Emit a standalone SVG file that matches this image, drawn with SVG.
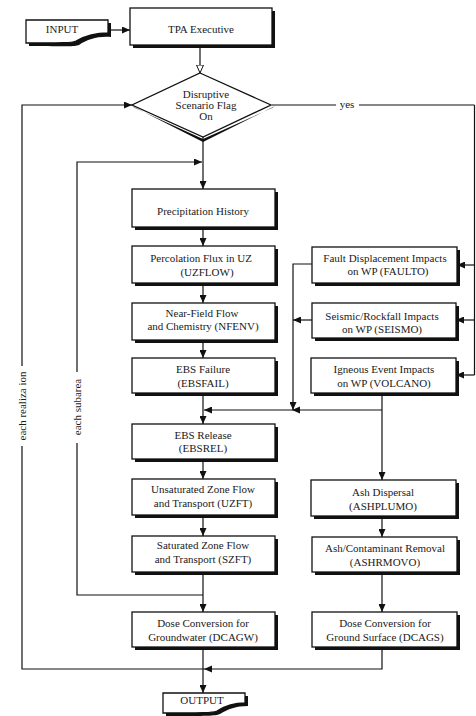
<svg xmlns="http://www.w3.org/2000/svg" width="476" height="716" viewBox="0 0 476 716">
<defs>
<marker id="ah" markerWidth="8" markerHeight="7" refX="8" refY="3.5" orient="auto" markerUnits="userSpaceOnUse"><path d="M0,0 L8,3.5 L0,7 z" fill="#111"/></marker>
<marker id="ao" markerWidth="9" markerHeight="8" refX="8.5" refY="4" orient="auto" markerUnits="userSpaceOnUse"><path d="M0.5,0.5 L8.5,4 L0.5,7.5 z" fill="#fff" stroke="#111" stroke-width="1"/></marker>
<style>
.bx{fill:#fff;stroke:#111;stroke-width:1.3}
.sh{fill:#111}
.t{font-family:"Liberation Serif","Times New Roman",serif;font-size:11px;fill:#1a1a1a;text-anchor:middle}
.c{fill:none;stroke:#111;stroke-width:1.2}
.a{marker-end:url(#ah)}
</style>
</defs>
<rect width="476" height="716" fill="#fff"/>

<g id="input">
<path class="sh" d="M29,23 H111 V37 C98,36 88,39 79,45 C74,47 68,46 29,46 Z"/>
<path class="bx" d="M26,20 H108 V33 C95,33 85,36 76,41 C71,43 65,43 26,43 Z"/>
<text class="t" x="62" y="33">INPUT</text>
</g>

<g id="tpa">
<rect class="sh" x="133" y="11" width="142" height="37"/>
<rect class="bx" x="130" y="8" width="142" height="37"/>
<text class="t" x="201" y="33">TPA Executive</text>
</g>

<g id="flag">
<polygon class="sh" points="132,106 203,142 275,106 272,108 203,139 135,108"/>
<polygon class="bx" points="200,73 271,105 203,137 132,105"/>
<text class="t" x="206" y="98">Disruptive</text>
<text class="t" x="206" y="109">Scenario Flag</text>
<text class="t" x="206" y="120">On</text>
</g>

<g id="precip">
<rect class="sh" x="135" y="192" width="143" height="38"/>
<rect class="bx" x="132" y="189" width="143" height="38"/>
<text class="t" x="203" y="215">Precipitation History</text>
</g>

<g id="uzflow">
<rect class="sh" x="135" y="249" width="143" height="37"/>
<rect class="bx" x="132" y="246" width="143" height="37"/>
<text class="t" x="201" y="262">Percolation Flux in UZ</text>
<text class="t" x="207" y="276">(UZFLOW)</text>
</g>

<g id="nfenv">
<rect class="sh" x="135" y="306" width="143" height="37"/>
<rect class="bx" x="132" y="303" width="143" height="37"/>
<text class="t" x="202" y="317">Near-Field Flow</text>
<text class="t" x="203" y="330">and Chemistry (NFENV)</text>
</g>

<g id="ebsfail">
<rect class="sh" x="135" y="361" width="143" height="35"/>
<rect class="bx" x="132" y="358" width="143" height="35"/>
<text class="t" x="203" y="373">EBS Failure</text>
<text class="t" x="203" y="387">(EBSFAIL)</text>
</g>

<g id="ebsrel">
<rect class="sh" x="135" y="427" width="143" height="35"/>
<rect class="bx" x="132" y="424" width="143" height="35"/>
<text class="t" x="203" y="439">EBS Release</text>
<text class="t" x="203" y="452">(EBSREL)</text>
</g>

<g id="uzft">
<rect class="sh" x="135" y="482" width="143" height="36"/>
<rect class="bx" x="132" y="479" width="143" height="36"/>
<text class="t" x="203" y="493">Unsaturated Zone Flow</text>
<text class="t" x="203" y="507">and Transport (UZFT)</text>
</g>

<g id="szft">
<rect class="sh" x="135" y="539" width="143" height="36"/>
<rect class="bx" x="132" y="536" width="143" height="36"/>
<text class="t" x="203" y="549">Saturated Zone Flow</text>
<text class="t" x="203" y="563">and Transport (SZFT)</text>
</g>

<g id="dcagw">
<rect class="sh" x="135" y="615" width="143" height="35"/>
<rect class="bx" x="132" y="612" width="143" height="35"/>
<text class="t" x="203" y="627">Dose Conversion for</text>
<text class="t" x="203" y="641">Groundwater (DCAGW)</text>
</g>

<g id="output">
<path class="sh" d="M166,696 H248 V706 C236,706 228,709 220,714 C215,716 208,716 166,716 Z"/>
<path class="bx" d="M163,693 H245 V703 C233,703 225,706 217,711 C212,713 205,713 163,713 Z"/>
<text class="t" x="202" y="704">OUTPUT</text>
</g>

<g id="faulto">
<rect class="sh" x="315" y="250" width="145" height="36"/>
<rect class="bx" x="312" y="247" width="145" height="36"/>
<text class="t" x="385" y="262">Fault Displacement Impacts</text>
<text class="t" x="388" y="275">on WP (FAULTO)</text>
</g>

<g id="seismo">
<rect class="sh" x="315" y="306" width="144" height="35"/>
<rect class="bx" x="312" y="303" width="144" height="35"/>
<text class="t" x="382" y="320">Seismic/Rockfall Impacts</text>
<text class="t" x="382" y="333">on WP (SEISMO)</text>
</g>

<g id="volcano">
<rect class="sh" x="314" y="361" width="145" height="35"/>
<rect class="bx" x="311" y="358" width="145" height="35"/>
<text class="t" x="384" y="373">Igneous Event Impacts</text>
<text class="t" x="384" y="387">on WP (VOLCANO)</text>
</g>

<g id="ashplumo">
<rect class="sh" x="314" y="483" width="145" height="36"/>
<rect class="bx" x="311" y="480" width="145" height="36"/>
<text class="t" x="383" y="496">Ash Dispersal</text>
<text class="t" x="383" y="510">(ASHPLUMO)</text>
</g>

<g id="ashrmovo">
<rect class="sh" x="315" y="540" width="145" height="35"/>
<rect class="bx" x="312" y="537" width="145" height="35"/>
<text class="t" x="385" y="552">Ash/Contaminant Removal</text>
<text class="t" x="385" y="566">(ASHRMOVO)</text>
</g>

<g id="dcags">
<rect class="sh" x="315" y="615" width="145" height="35"/>
<rect class="bx" x="312" y="612" width="145" height="35"/>
<text class="t" x="385" y="627">Dose Conversion for</text>
<text class="t" x="385" y="641">Ground Surface (DCAGS)</text>
</g>

<g id="connectors">
<line class="c a" x1="108" y1="30" x2="130" y2="30"/>
<line class="c" x1="200" y1="45" x2="200" y2="73" marker-end="url(#ao)"/>
<line class="c a" x1="203" y1="137" x2="203" y2="189"/>
<line class="c" x1="272" y1="105" x2="336" y2="105"/>
<line class="c" x1="359" y1="105" x2="474.5" y2="105"/>
<text class="t" x="347" y="108">yes</text>
<line class="c" x1="474.5" y1="105" x2="474.5" y2="375"/>
<line class="c a" x1="474.5" y1="265" x2="457" y2="265"/>
<line class="c a" x1="474.5" y1="320" x2="456" y2="320"/>
<line class="c a" x1="474.5" y1="375" x2="456" y2="375"/>
<line class="c a" x1="203" y1="227" x2="203" y2="246"/>
<line class="c a" x1="203" y1="283" x2="203" y2="303"/>
<line class="c a" x1="203" y1="340" x2="203" y2="358"/>
<line class="c a" x1="203" y1="393" x2="203" y2="424"/>
<line class="c a" x1="203" y1="459" x2="203" y2="479"/>
<line class="c a" x1="203" y1="515" x2="203" y2="536"/>
<line class="c a" x1="203" y1="572" x2="203" y2="612"/>
<line class="c a" x1="203" y1="647" x2="203" y2="693"/>
<polyline class="c a" points="312,264 293,264 293,410"/>
<line class="c a" x1="312" y1="320" x2="293" y2="320"/>
<line class="c a" x1="382" y1="393" x2="382" y2="480"/>
<polyline class="c a" points="382,410 204,410"/>
<polygon points="292,410 300,406.5 300,413.5" fill="#111"/>
<line class="c a" x1="382" y1="516" x2="382" y2="537"/>
<line class="c a" x1="382" y1="572" x2="382" y2="612"/>
<polyline class="c" points="382,647 382,669 22,669 22,446"/>
<polygon points="204,669 212,665.5 212,672.5" fill="#111"/>
<polyline class="c a" points="22,366 22,105 132,105"/>
<text class="t" text-anchor="middle" transform="translate(26,406) rotate(-90)" x="0" y="0">each realiza ion</text>
<polyline class="c" points="203,595 77,595 77,443"/>
<polyline class="c a" points="77,372 77,162 202,162"/>
<text class="t" text-anchor="middle" transform="translate(81,407) rotate(-90)" x="0" y="0">each subarea</text>
</g>
</svg>
